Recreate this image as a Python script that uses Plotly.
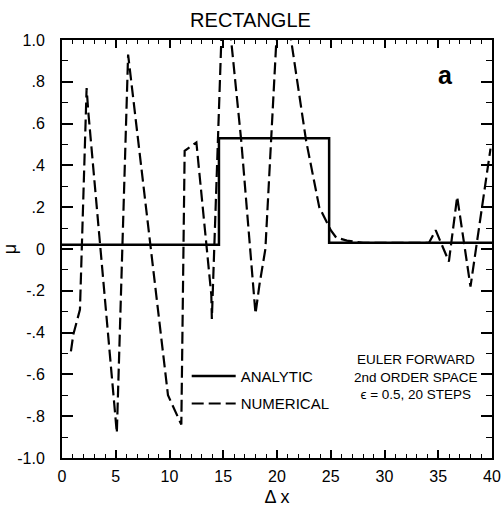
import plotly.graph_objects as go

# Analytic solution (rectangle)
analytic_x = [0, 14.6, 14.6, 24.85, 24.85, 40]
analytic_y = [0.02, 0.02, 0.53, 0.53, 0.03, 0.03]

# Numerical solution (Euler forward, 2nd order space)
numerical_x = [0.83, 1.05, 1.67, 2.29, 2.44, 5.1, 6.15, 6.31, 9.86, 11.1, 11.41, 12.5,
               13.89, 13.94, 15.05, 16.67, 18.0, 18.37, 18.92, 20.3, 21.3, 22.7, 23.93,
               25.0, 25.5, 26.5, 28.0, 30.0, 32.0, 34.14, 34.76, 35.99, 36.76, 38.0, 39.86]
numerical_y = [-0.49, -0.41, -0.29, 0.77, 0.66, -0.88, 0.93, 0.86, -0.70, -0.84, 0.47, 0.51,
               -0.22, -0.335, 1.35, 0.52, -0.31, -0.17, 0.0, 1.35, 1.0, 0.52, 0.20,
               0.09, 0.055, 0.04, 0.03, 0.03, 0.03, 0.03, 0.09, -0.06, 0.25, -0.18, 0.48]

x_tick_vals = [0, 5, 10, 15, 20, 25, 30, 35, 40]
y_tick_vals = [1.0, 0.8, 0.6, 0.4, 0.2, 0.0, -0.2, -0.4, -0.6, -0.8, -1.0]
y_tick_text = ["1.0", ".8", ".6", ".4", ".2", "0", "-.2", "-.4", "-.6", "-.8", "-1.0"]

FONT = "Liberation Sans, Arial, sans-serif"

fig = go.Figure()
fig.add_trace(go.Scatter(x=analytic_x, y=analytic_y, mode="lines", name="ANALYTIC",
                         legendgroup="a",
                         line=dict(color="black", width=2.5)))
fig.add_trace(go.Scatter(x=numerical_x, y=numerical_y, mode="lines", name="NUMERICAL",
                         legendgroup="n",
                         line=dict(color="black", width=2.2, dash="12px,5px")))

fig.update_layout(
    width=501, height=509,
    margin=dict(l=62, r=9, t=40, b=51, autoexpand=False),
    paper_bgcolor="white", plot_bgcolor="white",
    font=dict(family=FONT, size=15, color="black"),
    title=dict(text="RECTANGLE", x=0.5, xanchor="center", y=1 - 20 / 509, yanchor="middle",
               font=dict(size=20, family=FONT, color="black")),
    showlegend=True,
    legend=dict(x=0.29, y=0.235, xanchor="left", yanchor="top", itemwidth=44,
                bgcolor="rgba(0,0,0,0)", font=dict(size=15, family=FONT),
                tracegroupgap=5, traceorder="grouped"),
    xaxis=dict(range=[0, 40], tickvals=x_tick_vals, ticks="inside", ticklen=8, tickwidth=1.5,
               tickcolor="black", showline=True, linewidth=2, linecolor="black",
               mirror="allticks", showgrid=False, zeroline=False, automargin=False,
               minor=dict(dtick=1, ticks="inside", ticklen=4, tickwidth=1.2, tickcolor="black"),
               tickfont=dict(size=16, family=FONT), ticklabelstandoff=3,
               title=dict(text="Δ x", font=dict(size=18, family=FONT), standoff=6)),
    yaxis=dict(range=[-1, 1], tickvals=y_tick_vals, ticktext=y_tick_text, ticks="inside",
               ticklen=11, tickwidth=1.5, tickcolor="black", showline=True, linewidth=2,
               linecolor="black", mirror="allticks", showgrid=False, zeroline=False,
               automargin=False,
               minor=dict(dtick=0.1, ticks="inside", ticklen=6, tickwidth=1.2, tickcolor="black"),
               tickfont=dict(size=16, family=FONT), ticklabelstandoff=12,
               title=dict(text="μ", font=dict(size=18, family=FONT), standoff=4)),
)

fig.add_annotation(text="<b>a</b>", xref="paper", yref="paper", x=(445 - 62) / 430,
                   y=(458 - 75) / 418, showarrow=False,
                   font=dict(size=25, family=FONT, color="black"),
                   xanchor="center", yanchor="middle")
fig.add_annotation(text="EULER FORWARD<br>2nd ORDER SPACE<br>ϵ = 0.5, 20 STEPS",
                   xref="paper", yref="paper", x=(416 - 62) / 430, y=(458 - 377) / 418,
                   showarrow=False, align="center", xanchor="center", yanchor="middle",
                   font=dict(size=13.5, family=FONT, color="black"))

fig.write_html("out.html")
